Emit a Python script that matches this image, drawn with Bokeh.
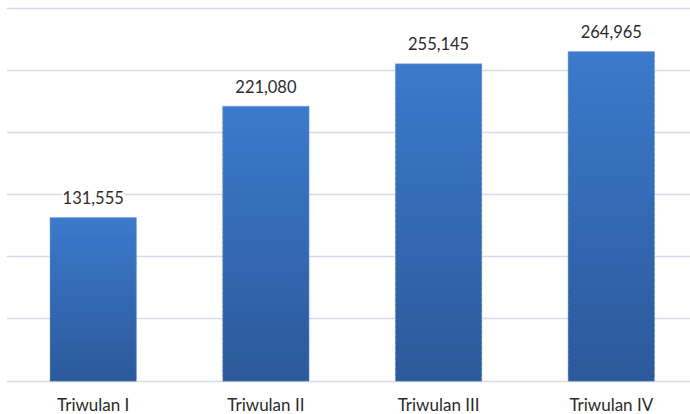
import numpy as np
from bokeh.plotting import figure
from bokeh.models import Range1d, FixedTicker, ColumnDataSource, LabelSet
from bokeh.core.properties import value
from bokeh.embed import file_html
from bokeh.resources import INLINE

categories = ["Triwulan I", "Triwulan II", "Triwulan III", "Triwulan IV"]
values = [131555, 221080, 255145, 264965]
value_labels = ["131,555", "221,080", "255,145", "264,965"]
grid_ticks = [0, 50000, 100000, 150000, 200000, 250000, 300000]

FONT = "Lato"
TXT = "#2b2b2b"
TOP = np.array([0x3b, 0x7a, 0xcc])
BOT = np.array([0x2c, 0x59, 0x9a])

xs = np.arange(len(categories)) + 0.5

p = figure(width=690, height=414, output_backend="svg", toolbar_location=None,
           x_range=Range1d(-0.002, 3.9586), y_range=Range1d(-26769, 306029),
           min_border_left=6, min_border_right=0, min_border_top=0, min_border_bottom=0)
p.outline_line_color = None
p.background_fill_color = "white"
p.axis.visible = False
p.xgrid.visible = False
p.ygrid.ticker = FixedTicker(ticks=grid_ticks)
p.ygrid.grid_line_color = "#dadaeb"
p.ygrid.grid_line_width = 1.5

# gradient bars via thin slices
N = 60
sx, sb, st, sc = [], [], [], []
for x, v in zip(xs, values):
    for i in range(N):
        f0, f1 = i / N, (i + 1) / N
        c = BOT + (TOP - BOT) * ((f0 + f1) / 2)
        sx.append(x)
        sb.append(v * f0)
        st.append(v * f1 + (v / N) * 0.6 if i < N - 1 else v * f1)
        sc.append("#%02x%02x%02x" % tuple(int(round(t)) for t in c))
p.vbar(x=sx, bottom=sb, top=st, width=0.5, fill_color=sc, line_color=None)
p.vbar(x=xs, top=values, width=0.5, fill_color=None, line_color="#7fa3d6", line_alpha=0.5, line_width=1)

# category labels under the baseline
csrc = ColumnDataSource(dict(x=xs, y=[0] * len(categories), t=categories))
p.add_layout(LabelSet(x="x", y="y", text="t", source=csrc, text_align="center",
                      text_baseline="alphabetic", y_offset=-30,
                      text_font=value(FONT), text_font_size=value("17px"), text_color=TXT))

# value labels above bars
src = ColumnDataSource(dict(x=xs, y=values, t=value_labels))
p.add_layout(LabelSet(x="x", y="y", text="t", source=src, text_align="center",
                      text_baseline="alphabetic", y_offset=13.5,
                      text_font=value(FONT), text_font_size=value("16.5px"), text_color=TXT,
                      background_fill_color="white"))

open("out.html", "w").write(file_html(p, INLINE))
